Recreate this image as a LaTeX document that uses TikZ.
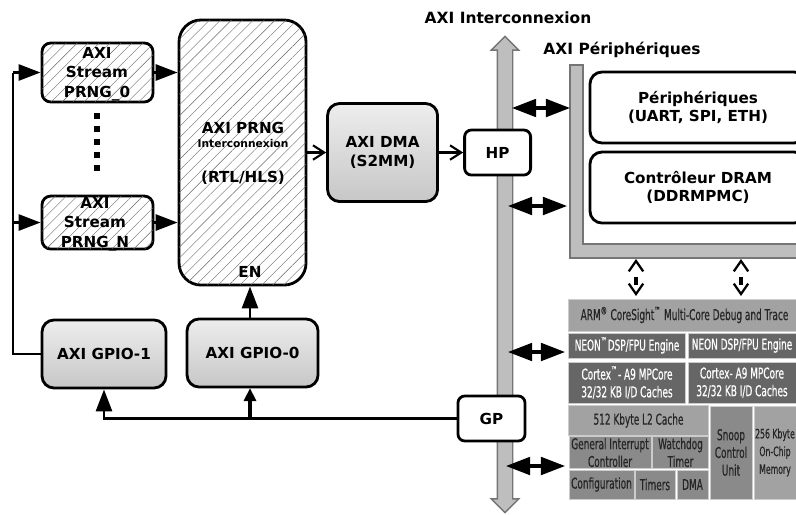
\documentclass[tikz,border=0pt]{standalone}
\usepackage{fontspec}
\setmainfont{DejaVu Sans}[BoldFont={DejaVu Sans Bold}]
\newfontfamily\narrowfont[FakeStretch=0.6,FakeBold=0.5]{DejaVu Sans}
\usetikzlibrary{arrows.meta,shapes.arrows,positioning,patterns.meta,shadows,calc}

\definecolor{busgray}{HTML}{BEBEBE}
\definecolor{busedge}{HTML}{757575}
\definecolor{coregray}{HTML}{666666}
\definecolor{midgray}{HTML}{8A8A8A}
\definecolor{lightgray}{HTML}{A2A2A2}

\begin{document}
\begin{tikzpicture}[
    x=0.025cm, y=-0.025cm,
    node distance=1.5cm,
    font=\bfseries\fontsize{10.8}{13.2}\selectfont,
    box/.style={rectangle, rounded corners=0.3cm, draw, line width=2pt, align=center,
        drop shadow={shadow xshift=0.4pt, shadow yshift=-0.6pt, fill=black, opacity=0.35}},
    hatched/.style={box, fill=white, postaction={pattern={Lines[angle=45, distance=5.5pt, line width=0.3pt]}, pattern color=black!60}},
    shaded/.style={box, top color=black!7, bottom color=black!22},
    plain/.style={box, fill=white},
    label/.style={align=center},
    cell/.style={rectangle, draw=white!80!black, line width=0.7pt, align=center, text=black!85,
        inner sep=0pt, font=\narrowfont\fontsize{10.6}{12.6}\selectfont},
    arrow/.style={-{Triangle[length=0.55cm, width=0.4cm]}, line width=2pt},
    smallarrow/.style={-{Triangle[length=0.33cm, width=0.3cm]}, line width=2.4pt},
    biarrow/.style={{Triangle[length=0.6cm, width=0.44cm]}-{Triangle[length=0.6cm, width=0.44cm]}, line width=2.2pt},
    openarrow/.style={-{Straight Barb[length=0.28cm, width=0.36cm, line width=1.5pt]}, line width=2.4pt},
    link/.style={{Straight Barb[length=0.26cm, width=0.36cm, line width=1.6pt]}-{Straight Barb[length=0.26cm, width=0.36cm, line width=1.6pt]},
        line width=2.2pt, dash pattern=on 0pt off 0.36cm on 0.22cm off 0.36cm}
]
    \useasboundingbox (0,0) rectangle (796,514);

    \node[double arrow, draw=busedge, fill=busgray, line width=1pt, minimum width=0.65cm, minimum height=11.9cm,
        double arrow head extend=0.15cm, double arrow head indent=0cm, shape border rotate=90, inner sep=0.175cm] (bus) at (505,274.5) {};
    \draw[draw=busedge, fill=busgray, line width=1pt] (570,65) -- (583,65) -- (583,244) -- (800,244) -- (800,258) -- (570,258) -- cycle;

    \node[hatched, minimum width=2.775cm, minimum height=1.475cm, rounded corners=0.22cm] (streamZero) at (97.5,72.5) {};
    \node[hatched, minimum width=2.775cm, minimum height=1.325cm, rounded corners=0.22cm, below of=streamZero, yshift=-2.25cm] (streamN) {};
    \node[hatched, minimum width=3.175cm, minimum height=6.625cm, rounded corners=0.55cm, right of=streamZero, xshift=2.125cm, yshift=-2cm] (prng) {};
    \node[shaded, minimum width=2.75cm, minimum height=2.45cm, right of=prng, xshift=2cm] (dma) {AXI DMA\\(S2MM)};
    \node[plain, minimum width=1.65cm, minimum height=1.125cm, rounded corners=0.17cm, right of=dma, xshift=1.375cm] (hp) {HP};
    \node[shaded, minimum width=3.1cm, minimum height=1.7cm] (gpioOne) at (104,354) {AXI GPIO-1};
    \node[shaded, minimum width=3.275cm, minimum height=1.7cm, right of=gpioOne, xshift=2.2125cm, yshift=0.025cm] (gpioZero) {AXI GPIO-0};
    \node[plain, minimum width=1.675cm, minimum height=1.125cm, rounded corners=0.17cm] (gp) at (491.5,418.5) {GP};
    \node[plain, minimum width=5.4cm, minimum height=1.775cm] (periph) at (698,107.5) {Périphériques\\(UART, SPI, ETH)};
    \node[plain, minimum width=5.4cm, minimum height=1.775cm, below of=periph, yshift=-0.5cm] (dram) {Contrôleur DRAM\\(DDRMPMC)};

    \node[label] (streamZeroText) at (97,74) {AXI\\[0.5pt]Stream\\[0.5pt]PRNG\_0};
    \node[label, below of=streamZeroText, xshift=-0.05cm, yshift=-2.25cm] (streamNText) {AXI\\[0.5pt]Stream\\[0.5pt]PRNG\_N};
    \node at (243,128) (prngText) {AXI PRNG};
    \node[font=\bfseries\fontsize{7.6}{9}\selectfont] at (243,144) (prngSub) {Interconnexion};
    \node at (243,178) (prngLang) {(RTL/HLS)};
    \node at (250,272) (prngEn) {EN};
    \node[font=\bfseries\fontsize{11}{13}\selectfont] at (508,18) (busTitle) {AXI Interconnexion};
    \node[font=\bfseries\fontsize{11}{13}\selectfont] at (622,50) (periphTitle) {AXI Périphériques};

    \coordinate (dotsTop) at (97,113);
    \coordinate (dotsBot) at (97,172);
    \coordinate (feedTop) at (13,72.5);
    \coordinate (feedCorner) at (13,354);
    \coordinate (feedMid) at (13,222.5);
    \coordinate (busUpper) at (512,108);
    \coordinate (lbusUpper) at (570,108);
    \coordinate (busDram) at (508,206);
    \coordinate (lbusDram) at (567,206);
    \coordinate (busArm) at (508,352);
    \coordinate (armUpper) at (565,352);
    \coordinate (busLower) at (506,466);
    \coordinate (armLower) at (565,466);
    \coordinate (lbusLeft) at (636,259);
    \coordinate (armLeft) at (636,296);
    \coordinate (lbusRight) at (741,259);
    \coordinate (armRight) at (741,296);
    \coordinate (gpioTop) at (250,319);
    \coordinate (gpioBottom) at (250,388);

    \draw[line width=0.16cm, dash pattern=on 0.16cm off 0.165cm] (dotsTop) -- (dotsBot);

    \node[cell, fill=lightgray, minimum width=5.675cm, minimum height=0.8cm] (debug) at (682.5,315) {\hspace{0.1cm}ARM\textsuperscript{®} CoreSight\textsuperscript{™} Multi-Core Debug and Trace};
    \node[cell, fill=coregray, text=white, minimum width=2.9cm, minimum height=0.625cm] (neonA) at (627,345.5) {NEON\textsuperscript{™}DSP/FPU Engine};
    \node[cell, fill=coregray, text=white, minimum width=2.7cm, minimum height=0.625cm] (neonB) at (742,345.5) {NEON DSP/FPU Engine};
    \node[cell, fill=coregray, text=white, minimum width=2.9cm, minimum height=1.025cm] (cortexA) at (627,382.5) {Cortex\textsuperscript{™}- A9 MPCore\\32/32 KB I/D Caches};
    \node[cell, fill=coregray, text=white, minimum width=2.7cm, minimum height=1.025cm] (cortexB) at (742,382.5) {Cortex- A9 MPCore\\32/32 KB I/D Caches};
    \node[cell, fill=lightgray, minimum width=3.475cm, minimum height=0.75cm] (cache) at (638.5,420.5) {512 Kbyte L2 Cache};
    \node[cell, fill=midgray, minimum width=2.05cm, minimum height=0.8cm] (gic) at (610,452.5) {General Interrupt\\Controller};
    \node[cell, fill=midgray, minimum width=1.4cm, minimum height=0.8cm] (watchdog) at (680.5,452.5) {Watchdog\\Timer};
    \node[cell, fill=midgray, minimum width=1.625cm, minimum height=0.725cm] (config) at (601.5,484.5) {Configuration};
    \node[cell, fill=midgray, minimum width=1cm, minimum height=0.725cm] (timers) at (655,484.5) {Timers};
    \node[cell, fill=midgray, minimum width=0.775cm, minimum height=0.725cm] (armDma) at (692.5,484.5) {DMA};
    \node[cell, fill=midgray, minimum width=1.05cm, minimum height=2.325cm] (snoop) at (731,452.5) {Snoop\\Control\\Unit};
    \node[cell, fill=lightgray, minimum width=1.05cm, minimum height=2.325cm, font=\narrowfont\fontsize{9.2}{12.6}\selectfont] (ocm) at (775,452.5) {256 Kbyte\\On-Chip\\Memory};

    \draw[arrow] (feedTop) -- (streamZero.west |- feedTop);
    \draw[arrow] (feedMid) -- (streamN.west);
    \draw[line width=1.8pt] (gpioOne.west) -- (feedCorner) -- (feedTop);
    \draw[arrow] (streamZero.east) -- (prng.west |- streamZero.east);
    \draw[arrow] (streamN.east) -- (prng.west |- streamN.east);
    \draw[openarrow] (prng.east) -- (dma.west);
    \draw[openarrow] (dma.east) -- (hp.west);
    \draw[arrow] (gpioTop) -- (gpioTop |- prng.south);
    \draw[arrow] (gp.west) -| (gpioOne.south);
    \draw[smallarrow] (gpioBottom |- gp.west) -- (gpioBottom);
    \draw[biarrow] (busUpper) -- (lbusUpper);
    \draw[biarrow] (busDram) -- (lbusDram);
    \draw[biarrow] (busArm) -- (armUpper);
    \draw[biarrow] (busLower) -- (armLower);
    \draw[link] (lbusLeft) -- (armLeft);
    \draw[link] (lbusRight) -- (armRight);
\end{tikzpicture}
\end{document}
